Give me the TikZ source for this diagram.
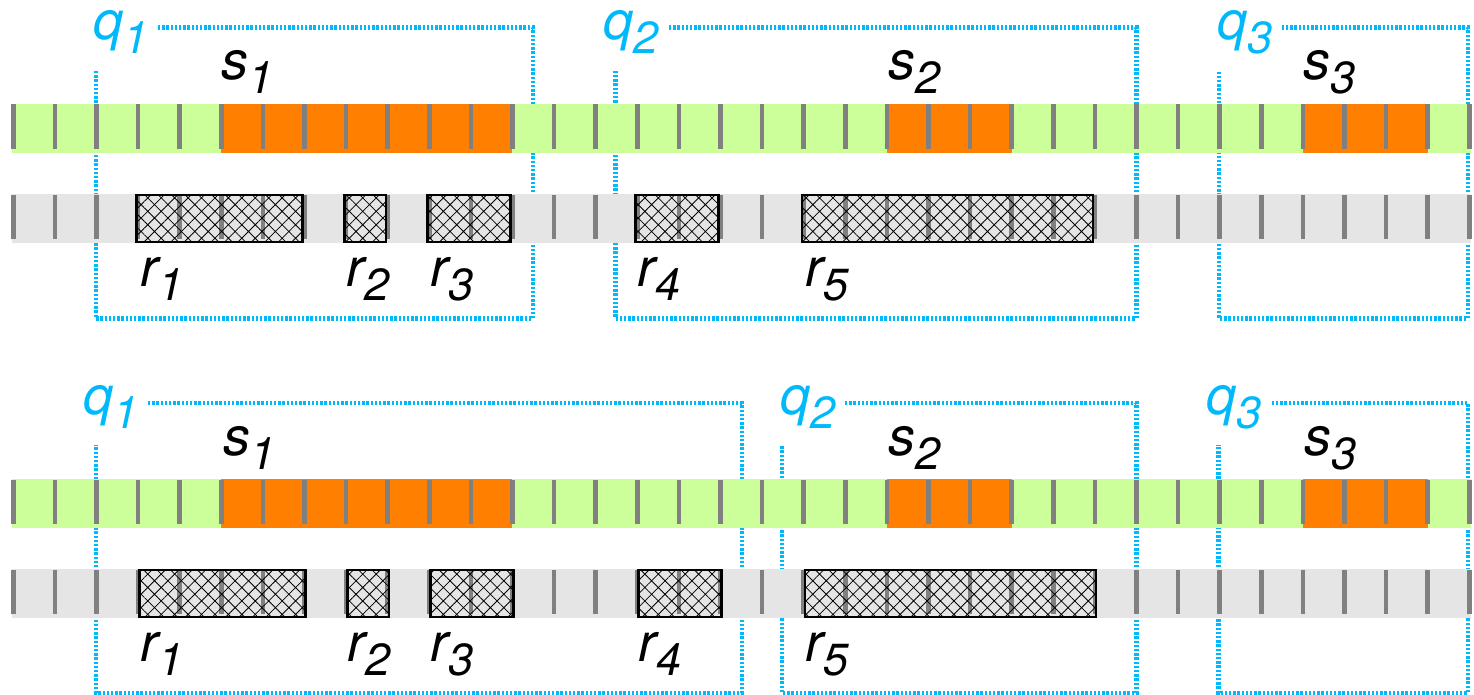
\documentclass[tikz,border=0pt]{standalone}
\usepackage{fontspec}
\setmainfont{TeX Gyre Heros}
\usetikzlibrary{patterns.meta}
\definecolor{qblue}{RGB}{0,185,250}
\definecolor{sgreen}{RGB}{204,255,153}
\definecolor{sorange}{RGB}{255,128,0}
\definecolor{rgrey}{RGB}{229,229,229}
\definecolor{tickgrey}{RGB}{128,128,128}
\newcommand\lab[2]{#1\raisebox{-14pt}{\fontsize{45}{45}\selectfont #2}}
\begin{document}
\begin{tikzpicture}[x=1pt,y=-1pt,
  qline/.style={draw=qblue,line width=4.2pt,dash pattern=on 2.4pt off 1.8pt},
  tickmark/.style={draw=tickgrey,line width=4.6pt},
  hatchbox/.style={draw=black,line width=2.5pt,pattern={Hatch[angle=45,distance=9.5pt,line width=0.8pt]}},
  lbl/.style={anchor=base west,inner sep=0pt,font=\fontsize{54}{54}\selectfont\itshape},
  qlbl/.style={lbl,text=qblue},
]
\useasboundingbox (0,0) rectangle (1474,695);

% ---------- dotted query boxes (behind bars) ----------
% top panel
\draw[qline] (158,27.5) -- (533,27.5) -- (533,318.5) -- (96,318.5) -- (96,70);
\draw[qline] (669,27.5) -- (1136.4,27.5) -- (1136.4,318.5) -- (615.5,318.5) -- (615.5,70);
\draw[qline] (1281.7,27.5) -- (1467.7,27.5) -- (1467.7,318.5) -- (1219,318.5) -- (1219,70);
% bottom panel
\draw[qline] (148,402.7) -- (741.7,402.7) -- (741.7,692.7) -- (96,692.7) -- (96,444.5);
\draw[qline] (845,402.7) -- (1136.4,402.7) -- (1136.4,692.7) -- (781.7,692.7) -- (781.7,444.5);
\draw[qline] (1271.7,402.7) -- (1467.7,402.7) -- (1467.7,692.7) -- (1218.5,692.7) -- (1218.5,444.5);

% ---------- bars ----------
\foreach \dy/\sh in {0/-1.7,375/1.3}{
  % green / orange bar
  \fill[sgreen] (12,104+\dy) rectangle (1470.5,152.6+\dy);
  \foreach \a/\b in {5/12,21/24,31/34}
    \fill[sorange] ({13.2+41.6*\a},104+\dy) rectangle ({13.2+41.6*\b},152.6+\dy);
  \foreach \k in {0,...,35}
    \draw[tickmark] ({13.2+41.6*\k},104.5+\dy) -- ({13.2+41.6*\k},149+\dy);
  % grey bar
  \fill[rgrey] (12,194+\dy) rectangle (1470.5,242.6+\dy);
  \foreach \k in {0,...,35}
    \draw[tickmark] ({13.2+41.6*\k},195+\dy) -- ({13.2+41.6*\k},239+\dy);
  \foreach \a/\b in {3/7,8/9,10/12,15/17,19/26}
    \draw[hatchbox] ({13.2+41.6*\a+\sh},195.2+\dy) rectangle ({13.2+41.6*\b+\sh},242+\dy);
}

% ---------- labels: top panel ----------
\node[qlbl] (tq1) at (93,40) {\lab{q}{1}};
\node[qlbl] (tq2) at (603,40) {\lab{q}{2}};
\node[qlbl] (tq3) at (1217,40) {\lab{q}{3}};
\node[lbl] (ts1) at (221,80) {\lab{s}{1}};
\node[lbl] (ts2) at (888,80) {\lab{s}{2}};
\node[lbl] (ts3) at (1303,80) {\lab{s}{3}};
\node[lbl] (tr1) at (140,286.7) {\lab{r}{1}};
\node[lbl] (tr2) at (346,286.7) {\lab{r}{2}};
\node[lbl] (tr3) at (430,286.7) {\lab{r}{3}};
\node[lbl] (tr4) at (637,286.7) {\lab{r}{4}};
\node[lbl] (tr5) at (805,286.7) {\lab{r}{5}};

% ---------- labels: bottom panel ----------
\node[qlbl] (bq1) at (83,414.5) {\lab{q}{1}};
\node[qlbl] (bq2) at (780,414.5) {\lab{q}{2}};
\node[qlbl] (bq3) at (1206,414.5) {\lab{q}{3}};
\node[lbl] (bs1) at (223,455) {\lab{s}{1}};
\node[lbl] (bs2) at (888,455) {\lab{s}{2}};
\node[lbl] (bs3) at (1304,455) {\lab{s}{3}};
\node[lbl] (br1) at (140,661.7) {\lab{r}{1}};
\node[lbl] (br2) at (347,661.7) {\lab{r}{2}};
\node[lbl] (br3) at (430,661.7) {\lab{r}{3}};
\node[lbl] (br4) at (638,661.7) {\lab{r}{4}};
\node[lbl] (br5) at (805,661.7) {\lab{r}{5}};
\end{tikzpicture}
\end{document}
